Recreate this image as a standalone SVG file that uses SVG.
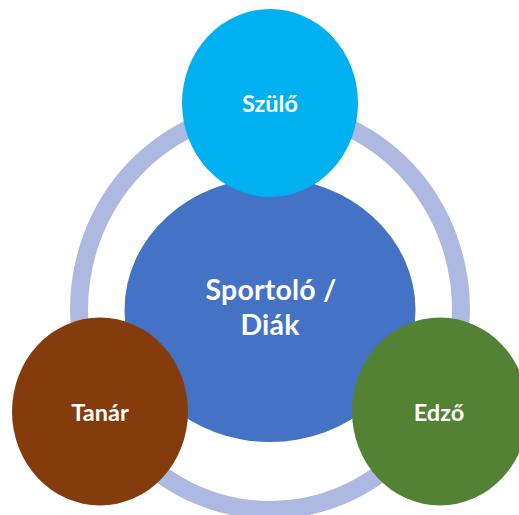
<svg xmlns="http://www.w3.org/2000/svg" width="519" height="515" viewBox="0 0 519 515">
<style>
.lbl{font-family:Lato,"Open Sans","Liberation Sans",sans-serif;font-weight:bold;fill:#FFFFFF;text-anchor:middle}
.sm{font-size:23.5px}
.lg{font-size:28.5px;letter-spacing:0.2px}
</style>
<rect width="519" height="515" fill="#FFFFFF"/>
<g id="connectors">
<ellipse cx="270" cy="310" rx="191" ry="200" fill="none" stroke="#ADB9E0" stroke-width="18"/>
</g>
<g id="center">
<ellipse cx="270" cy="310" rx="145.5" ry="132" fill="#4472C4"/>
<text class="lbl lg"><tspan x="271" y="300">Sportoló /</tspan><tspan x="270" y="334.5">Diák</tspan></text>
</g>
<g id="szulo">
<ellipse cx="270" cy="103" rx="88" ry="94" fill="#00B0F0"/>
<text class="lbl sm" x="270" y="112">Szülő</text>
</g>
<g id="tanar">
<ellipse cx="100" cy="411.5" rx="88" ry="94" fill="#843C0C"/>
<text class="lbl sm" x="100" y="421">Tanár</text>
</g>
<g id="edzo">
<ellipse cx="440" cy="411.5" rx="88" ry="94" fill="#548235"/>
<text class="lbl sm" x="439" y="421">Edző</text>
</g>
</svg>
